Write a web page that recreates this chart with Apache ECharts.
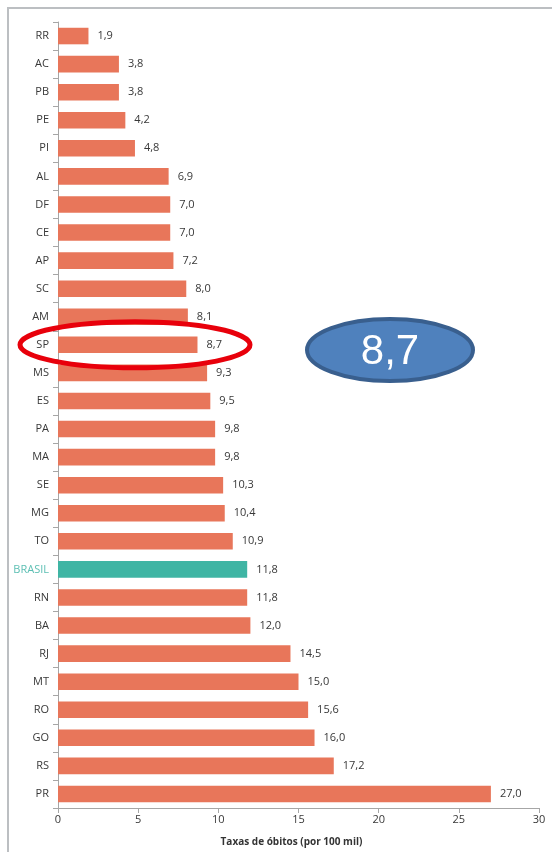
<!DOCTYPE html>
<html>
<head>
<meta charset="utf-8">
<script src="https://cdn.jsdelivr.net/npm/echarts@6/dist/echarts.min.js"></script>
<style>
  html, body { margin: 0; padding: 0; background: #fff; }
  #chart { width: 552px; height: 852px; }
</style>
</head>
<body>
<div id="chart"></div>
<script>
const states = ["RR", "AC", "PB", "PE", "PI", "AL", "DF", "CE", "AP", "SC", "AM", "SP", "MS", "ES",
  "PA", "MA", "SE", "MG", "TO", "BRASIL", "RN", "BA", "RJ", "MT", "RO", "GO", "RS", "PR"];
const rates = [1.9, 3.8, 3.8, 4.2, 4.8, 6.9, 7.0, 7.0, 7.2, 8.0, 8.1, 8.7, 9.3, 9.5,
  9.8, 9.8, 10.3, 10.4, 10.9, 11.8, 11.8, 12.0, 14.5, 15.0, 15.6, 16.0, 17.2, 27.0];
const xTicks = [0, 5, 10, 15, 20, 25, 30];
const highlightState = "SP";
const calloutText = "8,7";

const barColor = "#e8765a";
const brasilColor = "#3fb5a4";
const textColor = "#383838";
const font = "'Open Sans', 'Noto Sans', sans-serif";

const chart = echarts.init(document.getElementById("chart"));

chart.setOption({
  animation: false,
  grid: { left: 58, right: 13, top: 22, bottom: 44 },
  xAxis: {
    type: "value",
    min: xTicks[0],
    max: xTicks[xTicks.length - 1],
    interval: 5,
    name: "Taxas de óbitos (por 100 mil)",
    nameLocation: "middle",
    nameGap: 29,
    nameTextStyle: { fontFamily: font, fontSize: 10, fontWeight: "bold", color: "#333", padding: [0, 14, 0, 0] },
    axisLine: { show: true, lineStyle: { color: "#a6a6a6" } },
    axisTick: { show: true, length: 5, lineStyle: { color: "#a6a6a6" } },
    axisLabel: { fontFamily: font, fontSize: 11, color: textColor, margin: 6 },
    splitLine: { show: false }
  },
  yAxis: {
    type: "category",
    inverse: true,
    data: states,
    axisLine: { show: true, lineStyle: { color: "#a6a6a6" } },
    axisTick: { show: true, length: 5, lineStyle: { color: "#a6a6a6" } },
    axisLabel: {
      fontFamily: font,
      fontSize: 11,
      margin: 9,
      color: (v) => (v === "BRASIL" ? "#5cbfb3" : textColor)
    }
  },
  series: [{
    type: "bar",
    barCategoryGap: "41%",
    data: rates.map((v, i) => ({
      value: v,
      itemStyle: { color: states[i] === "BRASIL" ? brasilColor : barColor }
    })),
    label: {
      show: true,
      position: "right",
      distance: 9,
      fontFamily: font,
      fontSize: 11,
      color: textColor,
      formatter: (p) => p.value.toFixed(1).replace(".", ",")
    }
  }]
});

// frame and annotations
const spY = chart.convertToPixel({ yAxisIndex: 0 }, highlightState);
chart.setOption({
  graphic: [
    { type: "line", shape: { x1: 8, y1: 8, x2: 552, y2: 8 }, style: { stroke: "#bcbfc2", lineWidth: 2 } },
    { type: "line", shape: { x1: 8, y1: 7, x2: 8, y2: 852 }, style: { stroke: "#bcbfc2", lineWidth: 2 } },
    {
      type: "ellipse",
      shape: { cx: 135, cy: spY, rx: 115, ry: 23 },
      style: { fill: null, stroke: "#e8000b", lineWidth: 5 },
      z: 100
    },
    {
      type: "ellipse",
      shape: { cx: 390, cy: 350, rx: 83, ry: 31 },
      style: { fill: "#4f81bd", stroke: "#395f8e", lineWidth: 4 },
      z: 100
    },
    {
      type: "text",
      x: 390, y: 352,
      style: {
        text: calloutText,
        fill: "#fff",
        font: "42px 'Liberation Sans', Arial, sans-serif",
        textAlign: "center",
        textVerticalAlign: "middle"
      },
      z: 101
    }
  ]
});
</script>
</body>
</html>
